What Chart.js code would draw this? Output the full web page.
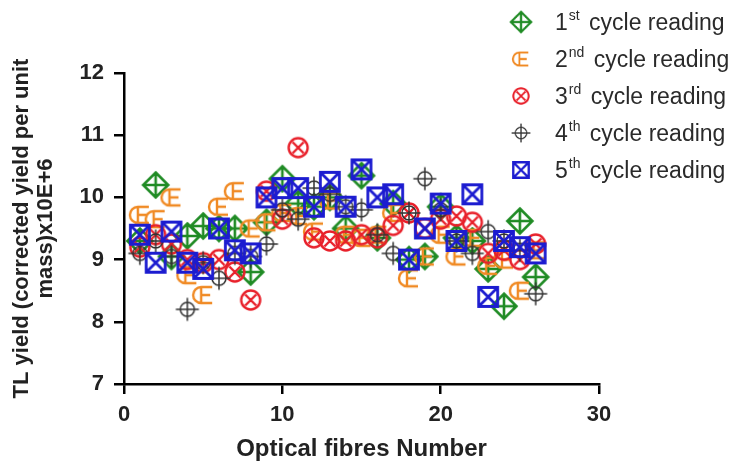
<!DOCTYPE html>
<html>
<head>
<meta charset="utf-8">
<script src="https://cdn.jsdelivr.net/npm/chart.js@4"></script>
<style>
  body { margin: 0; background: #fff; }
  canvas { display: block; }
</style>
</head>
<body>
<canvas id="grafico" width="730" height="465"></canvas>
<script>
// fibre numbers and TL yield readings (x10E+6) for each cycle
const fibres = [1, 2, 3, 4, 5, 6, 7, 8, 9, 10, 11, 12, 13, 14, 15, 16, 17, 18, 19, 20, 21, 22, 23, 24, 25, 26];
const cycle1 = [9.3, 10.2, 9.05, 9.38, 9.54, 9.5, 9.5, 8.8, 9.6, 10.3, 9.9, 9.85, 10.0, 9.5, 10.35, 9.35, 9.9, 9.0, 9.05, 9.85, 9.35, 9.3, 8.85, 8.25, 9.62, 8.72];
const cycle2 = [9.72, 9.65, 10.0, 8.75, 8.43, 9.85, 10.1, 9.5, 9.6, 9.75, 9.7, 9.45, 9.95, 9.4, 9.35, 9.4, 9.75, 8.7, 9.05, 9.4, 9.05, 9.35, 8.9, 9.0, 8.5, 9.15];
const cycle3 = [9.2, 9.4, 9.25, 9.0, 8.95, 9.0, 8.8, 8.35, 10.1, 9.65, 10.8, 9.35, 9.3, 9.3, 9.4, 9.35, 9.55, 9.75, 9.5, 9.65, 9.7, 9.6, 9.1, 9.15, 9.0, 9.25];
const cycle4 = [9.1, 9.3, 9.05, 8.2, 8.95, 8.7, 9.1, 9.05, 9.25, 9.8, 9.65, 10.15, 10.05, 9.85, 9.8, 9.4, 9.1, 9.75, 10.3, 9.8, 9.3, 9.1, 9.45, 9.3, 9.15, 8.45];
const cycle5 = [9.4, 8.95, 9.45, 8.95, 8.85, 9.5, 9.15, 9.1, 10.0, 10.15, 10.15, 9.85, 10.25, 9.85, 10.45, 10.0, 10.05, 9.0, 9.5, 9.9, 9.3, 10.05, 8.4, 9.3, 9.2, 9.1];

const yTicks = [7, 8, 9, 10, 11, 12];
const xTicks = [0, 10, 20, 30];
const ordinais = [['1', 'st'], ['2', 'nd'], ['3', 'rd'], ['4', 'th'], ['5', 'th']];

const fonte = '"Liberation Sans", Arial, sans-serif';

// desenha os simbolos de cada ciclo numa canvas pequena
function simbolo(tipo, cor) {
    const c = document.createElement('canvas');
    c.width = 32; c.height = 32;
    const g = c.getContext('2d');
    const m = 16;
    g.strokeStyle = cor;
    g.lineWidth = 2.6;
    g.beginPath();
    if (tipo === 'losango') {
        g.moveTo(m, m - 12.5); g.lineTo(m + 12.5, m); g.lineTo(m, m + 12.5); g.lineTo(m - 12.5, m); g.closePath();
        g.moveTo(m, m - 12.5); g.lineTo(m, m + 12.5);
        g.moveTo(m - 12.5, m); g.lineTo(m + 12.5, m);
    } else if (tipo === 'oe') {
        const cx = m - 2;
        g.lineWidth = 2.4;
        g.arc(cx, m, 8, Math.PI / 2, Math.PI * 1.5);
        g.moveTo(cx, m - 8); g.lineTo(cx + 11, m - 8);
        g.moveTo(cx, m + 8); g.lineTo(cx + 11, m + 8);
        g.moveTo(cx, m - 8); g.lineTo(cx, m + 8);
        g.moveTo(cx, m); g.lineTo(cx + 9, m);
    } else if (tipo === 'circuloX') {
        g.lineWidth = 2.4;
        g.arc(m, m, 9.5, 0, Math.PI * 2);
        g.moveTo(m - 5.5, m - 5.5); g.lineTo(m + 5.5, m + 5.5);
        g.moveTo(m + 5.5, m - 5.5); g.lineTo(m - 5.5, m + 5.5);
    } else if (tipo === 'mira') {
        g.lineWidth = 1.5;
        g.arc(m, m, 7, 0, Math.PI * 2);
        g.moveTo(m, m - 11.5); g.lineTo(m, m + 11.5);
        g.moveTo(m - 11.5, m); g.lineTo(m + 11.5, m);
    } else if (tipo === 'quadradoX') {
        g.lineWidth = 2.8;
        g.rect(m - 9.5, m - 9.5, 19, 19);
        g.moveTo(m - 9.5, m - 9.5); g.lineTo(m + 9.5, m + 9.5);
        g.moveTo(m + 9.5, m - 9.5); g.lineTo(m - 9.5, m + 9.5);
    }
    g.stroke();
    return c;
}

const series = [
    { dados: cycle1, simb: simbolo('losango', '#1f8b24'), ordem: 5 },
    { dados: cycle2, simb: simbolo('oe', '#f08a24'), ordem: 4 },
    { dados: cycle3, simb: simbolo('circuloX', '#e8202a'), ordem: 3 },
    { dados: cycle4, simb: simbolo('mira', '#333333'), ordem: 2 },
    { dados: cycle5, simb: simbolo('quadradoX', '#1c1cd0'), ordem: 1 },
];

// legenda desenhada a mao por causa dos sobrescritos
const legendaPlugin = {
    id: 'legendaCiclos',
    afterDraw(chart) {
        const ctx = chart.ctx;
        ctx.save();
        series.forEach((s, i) => {
            const y = 22 + 37 * i;
            ctx.drawImage(s.simb, 521 - 13, y - 13, 26, 26);
            ctx.fillStyle = '#2a2a2a';
            ctx.textBaseline = 'alphabetic';
            ctx.textAlign = 'left';
            let x = 555;
            ctx.font = '23px ' + fonte;
            ctx.fillText(ordinais[i][0], x, y + 8);
            x += ctx.measureText(ordinais[i][0]).width + 1;
            ctx.font = '14px ' + fonte;
            ctx.fillText(ordinais[i][1], x, y - 2);
            x += ctx.measureText(ordinais[i][1]).width + 3;
            ctx.font = '23px ' + fonte;
            ctx.fillText(' cycle reading', x, y + 8);
        });
        ctx.restore();
    }
};

const ctx = document.getElementById('grafico');
const myChart = new Chart(ctx, {
    type: 'scatter',
    data: {
        datasets: series.map((s, i) => ({
            label: ordinais[i].join('') + ' cycle reading',
            data: fibres.map((f, k) => ({ x: f, y: s.dados[k] })),
            pointStyle: s.simb,
            order: s.ordem,
        }))
    },
    options: {
        responsive: false,
        animation: false,
        layout: { padding: { top: 73, right: 131, bottom: 0, left: 0 } },
        plugins: {
            legend: { display: false },
            tooltip: { enabled: false }
        },
        scales: {
            x: {
                type: 'linear',
                min: 0,
                max: 30,
                afterBuildTicks: (s) => { s.ticks = xTicks.map(v => ({ value: v })); },
                afterFit: (s) => { s.height = 81; },
                border: { display: true, color: '#000', width: 2.5 },
                grid: { drawOnChartArea: false, drawTicks: true, tickLength: 10, color: '#000', lineWidth: 2.5 },
                ticks: { color: '#222', padding: 8, maxRotation: 0, font: { family: fonte, size: 22, weight: 'bold' } },
                title: {
                    display: true,
                    text: 'Optical fibres Number',
                    color: '#222',
                    padding: { top: 0, bottom: 1 },
                    font: { family: fonte, size: 24, weight: 'bold' }
                }
            },
            y: {
                min: 7,
                max: 12,
                afterBuildTicks: (s) => { s.ticks = yTicks.map(v => ({ value: v })); },
                afterFit: (s) => { s.width = 124; },
                border: { display: true, color: '#000', width: 2.5 },
                grid: { drawOnChartArea: false, drawTicks: true, tickLength: 10, color: '#000', lineWidth: 2.5 },
                ticks: { color: '#222', padding: 10, font: { family: fonte, size: 22, weight: 'bold' } },
                title: {
                    display: true,
                    text: ['TL yield (corrected yield per unit', 'mass)x10E+6'],
                    color: '#222',
                    padding: { top: 10, bottom: 0 },
                    font: { family: fonte, size: 22, weight: 'bold', lineHeight: 1.1 }
                }
            }
        }
    },
    plugins: [legendaPlugin]
});
</script>
</body>
</html>
